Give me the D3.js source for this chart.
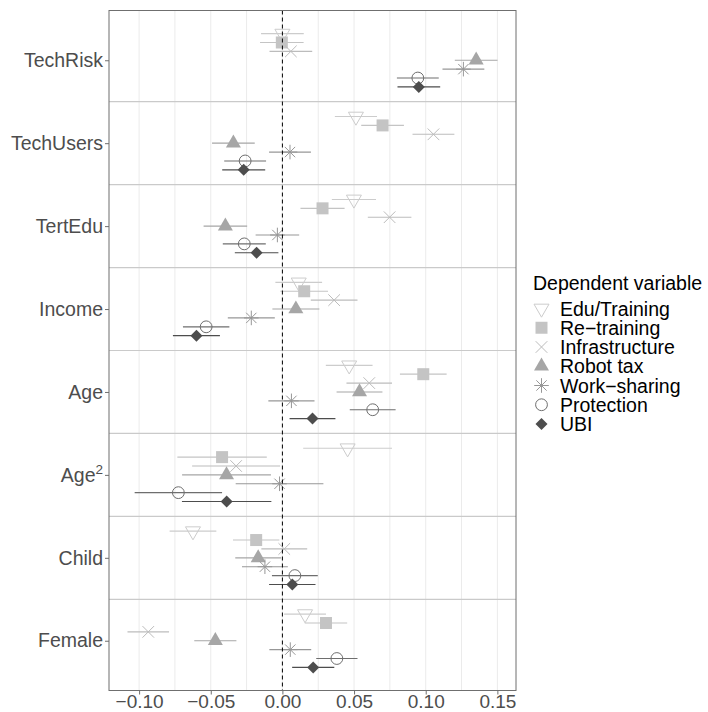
<!DOCTYPE html>
<html>
<head>
<meta charset="utf-8">
<script src="https://cdn.jsdelivr.net/npm/d3@7"></script>
<style>
  body { margin: 0; background: #fff; }
  svg { display: block; font-family: "Liberation Sans", Arial, Helvetica, sans-serif; }
</style>
</head>
<body>
<svg id="chart" width="708" height="712"></svg>
<script>
// Regressors, top to bottom
const categories = ["TechRisk", "TechUsers", "TertEdu", "Income", "Age", "Age^2", "Child", "Female"];
// Dependent variables (one model each)
const seriesNames = ["Edu/Training", "Re\u2212training", "Infrastructure", "Robot tax", "Work\u2212sharing", "Protection", "UBI"];

// Point estimates, one value per regressor
const eduTraining    = [ 0.000,  0.0513,  0.0499,  0.0114,  0.0466,  0.0455, -0.0624,  0.0158];
const reTraining     = [-0.0004, 0.0699,  0.0280,  0.0152,  0.0983, -0.0421, -0.0183,  0.0304];
const infrastructure = [ 0.0059, 0.1054,  0.0748,  0.0361,  0.0606, -0.0323,  0.0013, -0.0936];
const robotTax       = [ 0.1352,-0.0342, -0.0398,  0.0094,  0.0538, -0.0390, -0.0169, -0.0468];
const workSharing    = [ 0.1263, 0.0053, -0.0035, -0.0217,  0.0063, -0.0020, -0.0122,  0.0055];
const protection     = [ 0.0945,-0.0260, -0.0266, -0.0532,  0.0630, -0.0726,  0.0087,  0.0380];
const ubi            = [ 0.0952,-0.0270, -0.0180, -0.0600,  0.0210, -0.0389,  0.0069,  0.0215];

// Half-width of the confidence interval for each estimate
const eduTrainingCI    = [0.0149, 0.0147, 0.0154, 0.0163, 0.0163, 0.0310, 0.0163, 0.0146];
const reTrainingCI     = [0.0152, 0.0149, 0.0154, 0.0166, 0.0163, 0.0312, 0.0162, 0.0148];
const infrastructureCI = [0.0149, 0.0146, 0.0152, 0.0163, 0.0159, 0.0307, 0.0160, 0.0145];
const robotTaxCI       = [0.0149, 0.0149, 0.0152, 0.0164, 0.0160, 0.0310, 0.0160, 0.0147];
const workSharingCI    = [0.0146, 0.0146, 0.0152, 0.0164, 0.0161, 0.0306, 0.0160, 0.0146];
const protectionCI     = [0.0146, 0.0146, 0.0150, 0.0162, 0.0160, 0.0305, 0.0160, 0.0144];
const ubiCI            = [0.0149, 0.0150, 0.0152, 0.0164, 0.0160, 0.0312, 0.0162, 0.0147];

const xTicks = [-0.10, -0.05, 0.00, 0.05, 0.10, 0.15];
const legendTitle = "Dependent variable";

const estimates = [eduTraining, reTraining, infrastructure, robotTax, workSharing, protection, ubi];
const intervals = [eduTrainingCI, reTrainingCI, infrastructureCI, robotTaxCI, workSharingCI, protectionCI, ubiCI];

// ---- marker shapes (custom d3.symbol types; size = width^2) ----
const triDown = { draw(ctx, size) {
  const w = Math.sqrt(size), h = w * 0.866;
  ctx.moveTo(-w / 2, -h / 3); ctx.lineTo(w / 2, -h / 3); ctx.lineTo(0, 2 * h / 3); ctx.closePath();
}};
const triUp = { draw(ctx, size) {
  const w = Math.sqrt(size), h = w * 0.866;
  ctx.moveTo(0, -2 * h / 3); ctx.lineTo(w / 2, h / 3); ctx.lineTo(-w / 2, h / 3); ctx.closePath();
}};
const square = { draw(ctx, size) {
  const r = Math.sqrt(size) / 2;
  ctx.rect(-r, -r, 2 * r, 2 * r);
}};
const cross = { draw(ctx, size) {
  const r = Math.sqrt(size) / 2;
  ctx.moveTo(-r, -r); ctx.lineTo(r, r); ctx.moveTo(-r, r); ctx.lineTo(r, -r);
}};
const asterisk = { draw(ctx, size) {
  const r = Math.sqrt(size) / 2, d = r / Math.SQRT2;
  ctx.moveTo(-r, 0); ctx.lineTo(r, 0); ctx.moveTo(0, -r); ctx.lineTo(0, r);
  ctx.moveTo(-d, -d); ctx.lineTo(d, d); ctx.moveTo(-d, d); ctx.lineTo(d, -d);
}};
const circle = { draw(ctx, size) {
  const r = Math.sqrt(size) / 2;
  ctx.moveTo(r, 0); ctx.arc(0, 0, r, 0, 2 * Math.PI);
}};
const diamond = { draw(ctx, size) {
  const r = Math.sqrt(size) / 2;
  ctx.moveTo(0, -r); ctx.lineTo(r, 0); ctx.lineTo(0, r); ctx.lineTo(-r, 0); ctx.closePath();
}};

const styles = [
  { type: triDown,  size: 15 * 15,   color: "#cccccc", filled: false, sw: 1 },
  { type: square,   size: 12 * 12,   color: "#c4c4c4", filled: true,  sw: 0 },
  { type: cross,    size: 11.6 * 11.6, color: "#bcbcbc", filled: false, sw: 1 },
  { type: triUp,    size: 15 * 15,   color: "#a6a6a6", filled: true,  sw: 0 },
  { type: asterisk, size: 14.6 * 14.6, color: "#979797", filled: false, sw: 1 },
  { type: circle,   size: 11.8 * 11.8, color: "#6e6e6e", filled: false, sw: 1 },
  { type: diamond,  size: 12 * 12,   color: "#4d4d4d", filled: true,  sw: 0 }
];

const svg = d3.select("#chart");
const panel = { left: 109, right: 516, top: 10.5, bottom: 690.5 };

const x = d3.scaleLinear().domain([-0.121, 0.163]).range([panel.left, panel.right]);
const y = d3.scalePoint().domain(categories).range([panel.top, panel.bottom]).padding(0.6);
const dodge = d3.scaleBand().domain(seriesNames)
  .range([-y.step() * 0.375, y.step() * 0.375]);
const dy = s => dodge(s) + dodge.bandwidth() / 2;

const textGrey = "#4d4d4d";
const fontSize = 19.5;

// vertical grid lines every 0.025
const grid = d3.range(-4, 7).map(i => i * 0.025);
svg.append("g").selectAll("line").data(grid).join("line")
  .attr("x1", d => x(d)).attr("x2", d => x(d))
  .attr("y1", panel.top).attr("y2", panel.bottom)
  .attr("stroke", "#ebebeb").attr("stroke-width", 1);

// separators between regressors
const seps = categories.slice(1).map((c, i) => (y(categories[i]) + y(c)) / 2);
svg.append("g").selectAll("line").data(seps).join("line")
  .attr("x1", panel.left).attr("x2", panel.right)
  .attr("y1", d => d).attr("y2", d => d)
  .attr("stroke", "#cacaca").attr("stroke-width", 1.2);

// estimates with interval bars
const rows = [];
seriesNames.forEach((s, si) => {
  categories.forEach((c, ci) => {
    rows.push({ s, si, c, est: estimates[si][ci], ci: intervals[si][ci] });
  });
});

const marks = svg.append("g");
marks.selectAll("line").data(rows).join("line")
  .attr("x1", d => x(d.est - d.ci)).attr("x2", d => x(d.est + d.ci))
  .attr("y1", d => y(d.c) + dy(d.s)).attr("y2", d => y(d.c) + dy(d.s))
  .attr("stroke", d => styles[d.si].color).attr("stroke-width", 1.15);

function drawSymbol(sel) {
  sel.attr("d", d => d3.symbol(styles[d.si].type, styles[d.si].size)())
    .attr("fill", d => styles[d.si].filled ? styles[d.si].color : "none")
    .attr("stroke", d => styles[d.si].filled ? "none" : styles[d.si].color)
    .attr("stroke-width", d => styles[d.si].sw);
}
marks.selectAll("path").data(rows).join("path")
  .attr("transform", d => `translate(${x(d.est)},${y(d.c) + dy(d.s)})`)
  .call(drawSymbol);

// reference line at zero
svg.append("line")
  .attr("x1", x(0)).attr("x2", x(0)).attr("y1", panel.top).attr("y2", panel.bottom)
  .attr("stroke", "#000").attr("stroke-width", 1).attr("stroke-dasharray", "4,3");

// panel border
svg.append("rect")
  .attr("x", panel.left).attr("y", panel.top)
  .attr("width", panel.right - panel.left).attr("height", panel.bottom - panel.top)
  .attr("fill", "none").attr("stroke", "#6f6f6f").attr("stroke-width", 1);

// axes
const xAxis = svg.append("g").attr("transform", `translate(0,${panel.bottom})`)
  .call(d3.axisBottom(x).tickValues(xTicks).tickFormat(d3.format(".2f")).tickSize(4).tickPadding(0.5));
const yAxis = svg.append("g").attr("transform", `translate(${panel.left},0)`)
  .call(d3.axisLeft(y).tickSize(4).tickPadding(2));
[xAxis, yAxis].forEach(a => {
  a.select(".domain").remove();
  a.selectAll(".tick line").attr("stroke", "#6f6f6f");
  a.selectAll(".tick text").attr("fill", textGrey).attr("font-size", fontSize)
    .attr("font-family", "Liberation Sans, Arial, sans-serif");
});
xAxis.selectAll(".tick text").attr("font-size", 19);
// superscript for squared term
yAxis.selectAll(".tick text").each(function (d) {
  const parts = d.split("^");
  if (parts.length === 2) {
    const t = d3.select(this).text(null);
    t.append("tspan").text(parts[0]);
    t.append("tspan").text(parts[1]).attr("font-size", 13.5).attr("dy", "-0.55em");
  }
});

// legend
const lg = svg.append("g").attr("transform", "translate(533,0)");
lg.append("text").attr("x", 0).attr("y", 289.5).attr("font-size", fontSize)
  .attr("fill", "#000").text(legendTitle);
const items = lg.selectAll("g.item").data(seriesNames.map((s, si) => ({ s, si })))
  .join("g").attr("class", "item")
  .attr("transform", d => `translate(0,${308.5 + d.si * 19.25})`);
items.append("path").attr("transform", "translate(8.5,0)").call(drawSymbol);
items.append("text").attr("x", 27).attr("y", 0).attr("dy", "0.36em")
  .attr("font-size", fontSize).attr("fill", "#000").text(d => d.s);
</script>
</body>
</html>
